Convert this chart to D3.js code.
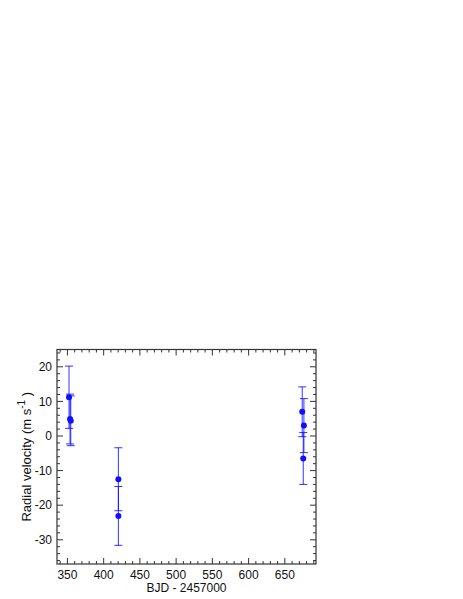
<!DOCTYPE html>
<html>
<head>
<meta charset="utf-8">
<script src="https://cdn.jsdelivr.net/npm/d3@7/dist/d3.min.js"></script>
<style>
  html, body { margin: 0; padding: 0; background: #fff; }
  svg text { font-family: "Liberation Sans", Arial, Helvetica, sans-serif; fill: #111; }
</style>
</head>
<body>
<div id="chart"></div>
<script>
// observation times (BJD - 2457000), radial velocities and errors (m/s)
const bjd = [352.2, 353.6, 354.6, 420.3, 420.3, 674.0, 676.3, 675.4];
const rv = [11.2, 4.9, 4.4, -12.5, -23.1, 7.0, 3.0, -6.5];
const rvErr = [9.0, 7.2, 7.2, 9.1, 8.5, 7.2, 7.8, 7.5];

const xMajorTicks = [350, 400, 450, 500, 550, 600, 650];
const yMajorTicks = [-30, -20, -10, 0, 10, 20];

const width = 463, height = 599;
const margin = { top: 349.5, right: 147, bottom: 35, left: 57 };
const plotW = width - margin.left - margin.right;
const plotH = height - margin.top - margin.bottom;

const x = d3.scaleLinear().domain([335.6, 693]).range([0, plotW]);
const y = d3.scaleLinear().domain([-37, 25]).range([plotH, 0]);

const svg = d3.select('#chart').append('svg')
  .attr('width', width)
  .attr('height', height);

const g = svg.append('g')
  .attr('transform', `translate(${margin.left}, ${margin.top})`);

const xMinor = d3.range(340, 693, 10).filter(v => !xMajorTicks.includes(v));
const yMinor = d3.range(-36, 25, 2).filter(v => !yMajorTicks.includes(v));

const majorLen = 6, minorLen = 3;
const tickColor = '#333';

// bottom and top ticks (pointing inward)
function xTicks(values, len) {
  g.selectAll(null).data(values).enter().append('line')
    .attr('x1', d => x(d)).attr('x2', d => x(d))
    .attr('y1', plotH).attr('y2', plotH - len)
    .attr('stroke', tickColor);
  g.selectAll(null).data(values).enter().append('line')
    .attr('x1', d => x(d)).attr('x2', d => x(d))
    .attr('y1', 0).attr('y2', len)
    .attr('stroke', tickColor);
}
// left and right ticks
function yTicks(values, len) {
  g.selectAll(null).data(values).enter().append('line')
    .attr('x1', 0).attr('x2', len)
    .attr('y1', d => y(d)).attr('y2', d => y(d))
    .attr('stroke', tickColor);
  g.selectAll(null).data(values).enter().append('line')
    .attr('x1', plotW).attr('x2', plotW - len)
    .attr('y1', d => y(d)).attr('y2', d => y(d))
    .attr('stroke', tickColor);
}
xTicks(xMajorTicks, majorLen);
xTicks(xMinor, minorLen);
yTicks(yMajorTicks, majorLen);
yTicks(yMinor, minorLen);

g.append('rect')
  .attr('x', 0).attr('y', 0)
  .attr('width', plotW).attr('height', plotH)
  .attr('fill', 'none')
  .attr('stroke', tickColor)
  .attr('stroke-width', 1.2);

// tick labels
g.selectAll('.xlab').data(xMajorTicks).enter().append('text')
  .attr('class', 'xlab')
  .attr('x', d => x(d))
  .attr('y', plotH + 15)
  .attr('text-anchor', 'middle')
  .style('font-size', '12px')
  .text(d => d);

g.selectAll('.ylab').data(yMajorTicks).enter().append('text')
  .attr('class', 'ylab')
  .attr('x', -5)
  .attr('y', d => y(d))
  .attr('dy', '0.35em')
  .attr('text-anchor', 'end')
  .style('font-size', '12px')
  .text(d => d);

// axis titles
svg.append('text')
  .attr('x', margin.left + plotW / 2)
  .attr('y', margin.top + plotH + 28)
  .attr('text-anchor', 'middle')
  .style('font-size', '12px')
  .text('BJD - 2457000');

const yTitle = svg.append('text')
  .attr('transform', `translate(31, ${margin.top + plotH / 2}) rotate(-90)`)
  .attr('text-anchor', 'middle')
  .style('font-size', '13px');
yTitle.append('tspan').text('Radial velocity (m s');
yTitle.append('tspan').attr('dy', -6).style('font-size', '10px').text('-1');
yTitle.append('tspan').attr('dy', 6).text(' )');

// error bars and points
const data = bjd.map((t, i) => ({ t: t, v: rv[i], e: rvErr[i] }));
const blue = '#1010ff';
const capW = 4;

const bars = g.selectAll('.err').data(data).enter().append('g').attr('class', 'err')
  .attr('stroke', blue)
  .attr('stroke-width', 1)
  .attr('stroke-opacity', 0.85);
bars.append('line')
  .attr('x1', d => x(d.t)).attr('x2', d => x(d.t))
  .attr('y1', d => y(d.v + d.e)).attr('y2', d => y(d.v - d.e));
bars.append('line')
  .attr('x1', d => x(d.t) - capW).attr('x2', d => x(d.t) + capW)
  .attr('y1', d => y(d.v + d.e)).attr('y2', d => y(d.v + d.e));
bars.append('line')
  .attr('x1', d => x(d.t) - capW).attr('x2', d => x(d.t) + capW)
  .attr('y1', d => y(d.v - d.e)).attr('y2', d => y(d.v - d.e));

g.selectAll('.pt').data(data).enter().append('circle')
  .attr('class', 'pt')
  .attr('cx', d => x(d.t))
  .attr('cy', d => y(d.v))
  .attr('r', 3)
  .attr('fill', blue);
</script>
</body>
</html>
